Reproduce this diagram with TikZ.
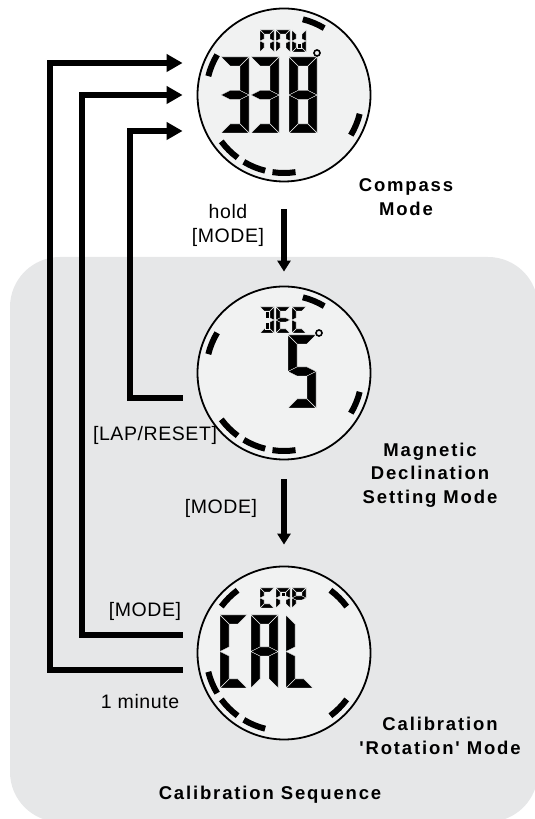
\documentclass[tikz,border=0pt]{standalone}
\usepackage{fontspec}
\setmainfont{Liberation Sans}
\newfontfamily\keyfont[LetterSpace=3]{Liberation Sans}
\newfontfamily\captionfont[LetterSpace=10]{Liberation Sans}
\usetikzlibrary{positioning, arrows.meta}

\definecolor{panelgrey}{RGB}{230,231,232}
\definecolor{lcdface}{RGB}{241,242,242}

% LCD segments in a box \dw x \dh with stroke \dt
\newcommand\lcdsega{(0,\dh) -- (\dw,\dh) -- (\dw-\dt,\dh-\dt) -- (\dt,\dh-\dt) -- cycle}
\newcommand\lcdsegb{(\dw,\dh) -- (\dw,\dh/2) -- (\dw-\dt,\dh/2+\dt/2) -- (\dw-\dt,\dh-\dt) -- cycle}
\newcommand\lcdsegc{(\dw,0) -- (\dw,\dh/2) -- (\dw-\dt,\dh/2-\dt/2) -- (\dw-\dt,\dt) -- cycle}
\newcommand\lcdsegd{(0,0) -- (\dw,0) -- (\dw-\dt,\dt) -- (\dt,\dt) -- cycle}
\newcommand\lcdsege{(0,0) -- (0,\dh/2) -- (\dt,\dh/2-\dt/2) -- (\dt,\dt) -- cycle}
\newcommand\lcdsegf{(0,\dh) -- (0,\dh/2) -- (\dt,\dh/2+\dt/2) -- (\dt,\dh-\dt) -- cycle}
\newcommand\lcdsegg{(0,\dh/2) -- (\dt,\dh/2+\dt/2) -- (\dw-\dt,\dh/2+\dt/2) -- (\dw,\dh/2) -- (\dw-\dt,\dh/2-\dt/2) -- (\dt,\dh/2-\dt/2) -- cycle}
\newcommand\lcdsegu{(\dw/2-\dt/2,\dh-\dt) -- (\dw/2+\dt/2,\dh-\dt) -- (\dw/2+\dt/2,\dh/2+\dt/2) -- (\dw/2-\dt/2,\dh/2+\dt/2) -- cycle}
\newcommand\lcdsegl{(\dw/2-\dt/2,\dt) -- (\dw/2+\dt/2,\dt) -- (\dw/2+\dt/2,\dh/2-\dt/2) -- (\dw/2-\dt/2,\dh/2-\dt/2) -- cycle}

\newcommand\lcdfill[1]{\filldraw[segment] #1;}
% #1 origin, #2 width, #3 height, #4 stroke, #5 lit segments
\newcommand\lcdglyph[5]{%
  \begin{scope}[shift={#1}]
    \def\dw{#2}\def\dh{#3}\def\dt{#4}
    \foreach \s in {#5}{\expandafter\lcdfill\csname lcdseg\s\endcsname}
  \end{scope}}

\begin{document}
\begin{tikzpicture}[
    x=1pt, y=1pt,
    display/.style={circle, draw=black, line width=1.8pt, fill=lcdface, minimum size=173pt, inner sep=0pt},
    ringdash/.style={line width=6pt},
    segment/.style={fill=black, draw=lcdface, line width=0.4pt},
    degree/.style={draw=black, line width=1.6pt},
    back/.style={draw, line width=6pt, -{Triangle[length=16pt, width=17pt]}},
    advance/.style={draw, line width=6pt, -{Triangle[length=11pt, width=13pt]}},
    keylabel/.style={font=\keyfont\fontsize{19.5}{24}\selectfont, align=center},
    modelabel/.style={font=\captionfont\bfseries\fontsize{18.5}{23.5}\selectfont, align=center}
]
\useasboundingbox (0,0) rectangle (535,819);

% calibration panel
\fill[panelgrey, rounded corners=50] (10,-3) rectangle (538,562);

% Displays
\node[display] (compass) at (284,724) {};
\node[display] (decl) at (284,446) {};
\node[display] (cal) at (284,166) {};

% ring segments
\foreach \a in {67.5,157.5,-22.5,-135,-112.5,-90}
  \draw[ringdash] (compass.center) ++({\a-8.5}:78) arc[start angle=\a-8.5, end angle=\a+8.5, radius=78];
\foreach \a in {67.5,157.5,-22.5,-135,-112.5,-90}
  \draw[ringdash] (decl.center) ++({\a-8.5}:78) arc[start angle=\a-8.5, end angle=\a+8.5, radius=78];
\foreach \a in {135,45,-157.5,-135,-112.5,-45}
  \draw[ringdash] (cal.center) ++({\a-8.5}:78) arc[start angle=\a-8.5, end angle=\a+8.5, radius=78];

% compass readout: NNW 338
\begin{scope}[shift={(compass.center)}]
  \lcdglyph{(-24,43)}{14}{22}{4}{a,b,c,e,f}
  \lcdglyph{(-8,43)}{14}{22}{4}{a,b,c,e,f}
  \lcdglyph{(8,43)}{14}{22}{4}{b,c,d,e,f,l}
  \lcdglyph{(-63,-38)}{28}{76}{9}{a,b,c,d,g}
  \lcdglyph{(-33,-38)}{28}{76}{9}{a,b,c,d,g}
  \lcdglyph{(5,-38)}{28}{76}{9}{a,b,c,d,e,f,g}
  \draw[degree] (33,42) circle (3);
\end{scope}

% declination readout: DEC 5
\begin{scope}[shift={(decl.center)}]
  \lcdglyph{(-24,40)}{14}{26}{4}{a,b,c,d,u,l}
  \lcdglyph{(-8,40)}{14}{26}{4}{a,d,e,f,g}
  \lcdglyph{(8,40)}{14}{26}{4}{a,d,e,f}
  \lcdglyph{(4,-35)}{28}{73}{9}{a,f,g,c,d}
  \draw[degree] (35,40) circle (3);
\end{scope}

% calibration readout: CMP CAL
\begin{scope}[shift={(cal.center)}]
  \lcdglyph{(-24,45)}{14}{20}{4}{a,d,e,f}
  \lcdglyph{(-8,45)}{14}{20}{4}{a,b,c,e,f,u}
  \lcdglyph{(8,45)}{14}{20}{4}{a,b,e,f,g}
  \lcdglyph{(-64,-35)}{27}{73}{9}{a,d,e,f}
  \lcdglyph{(-33,-35)}{27}{73}{9}{a,b,c,e,f,g}
  \lcdglyph{(2,-35)}{27}{73}{9}{d,e,f}
\end{scope}

% Transitions
\draw[advance] ([yshift=-27]compass.south) -- ([yshift=14]decl.north);
\draw[advance] ([yshift=-19]decl.south) -- ([yshift=21]cal.north);
\draw[back] ([shift={(-14,-25)}]decl.west) -| ([shift={(-67,-36)}]compass.west) -- ([shift={(-14,-36)}]compass.west);
\draw[back] ([shift={(-14,18)}]cal.west) -| ([shift={(-115,0)}]compass.west) -- ([xshift=-14]compass.west);
\draw[back] ([shift={(-14,-17)}]cal.west) -| ([shift={(-147,32)}]compass.west) -- ([shift={(-14,32)}]compass.west);

% Button labels
\node[keylabel] (holdkey) at (228,594) {hold\\{[}MODE{]}};
\node[keylabel] (modekey) at (221,311) {[MODE]};
\node[keylabel] (lapkey) at (155,384) {[LAP/RESET]};
\node[keylabel] (returnkey) at (145,208) {[MODE]};
\node[keylabel] (timeout) at (140,117) {1 minute};

% Mode names
\node[modelabel] (compassname) at (406,622) {Compass\\Mode};
\node[modelabel] (declname) at (430,344) {Magnetic\\Declination\\Setting Mode};
\node[modelabel] (calname) at (440,83) {Calibration\\'Rotation' Mode};
\node[modelabel] (panelname) at (270,24) {Calibration Sequence};

\end{tikzpicture}
\end{document}
